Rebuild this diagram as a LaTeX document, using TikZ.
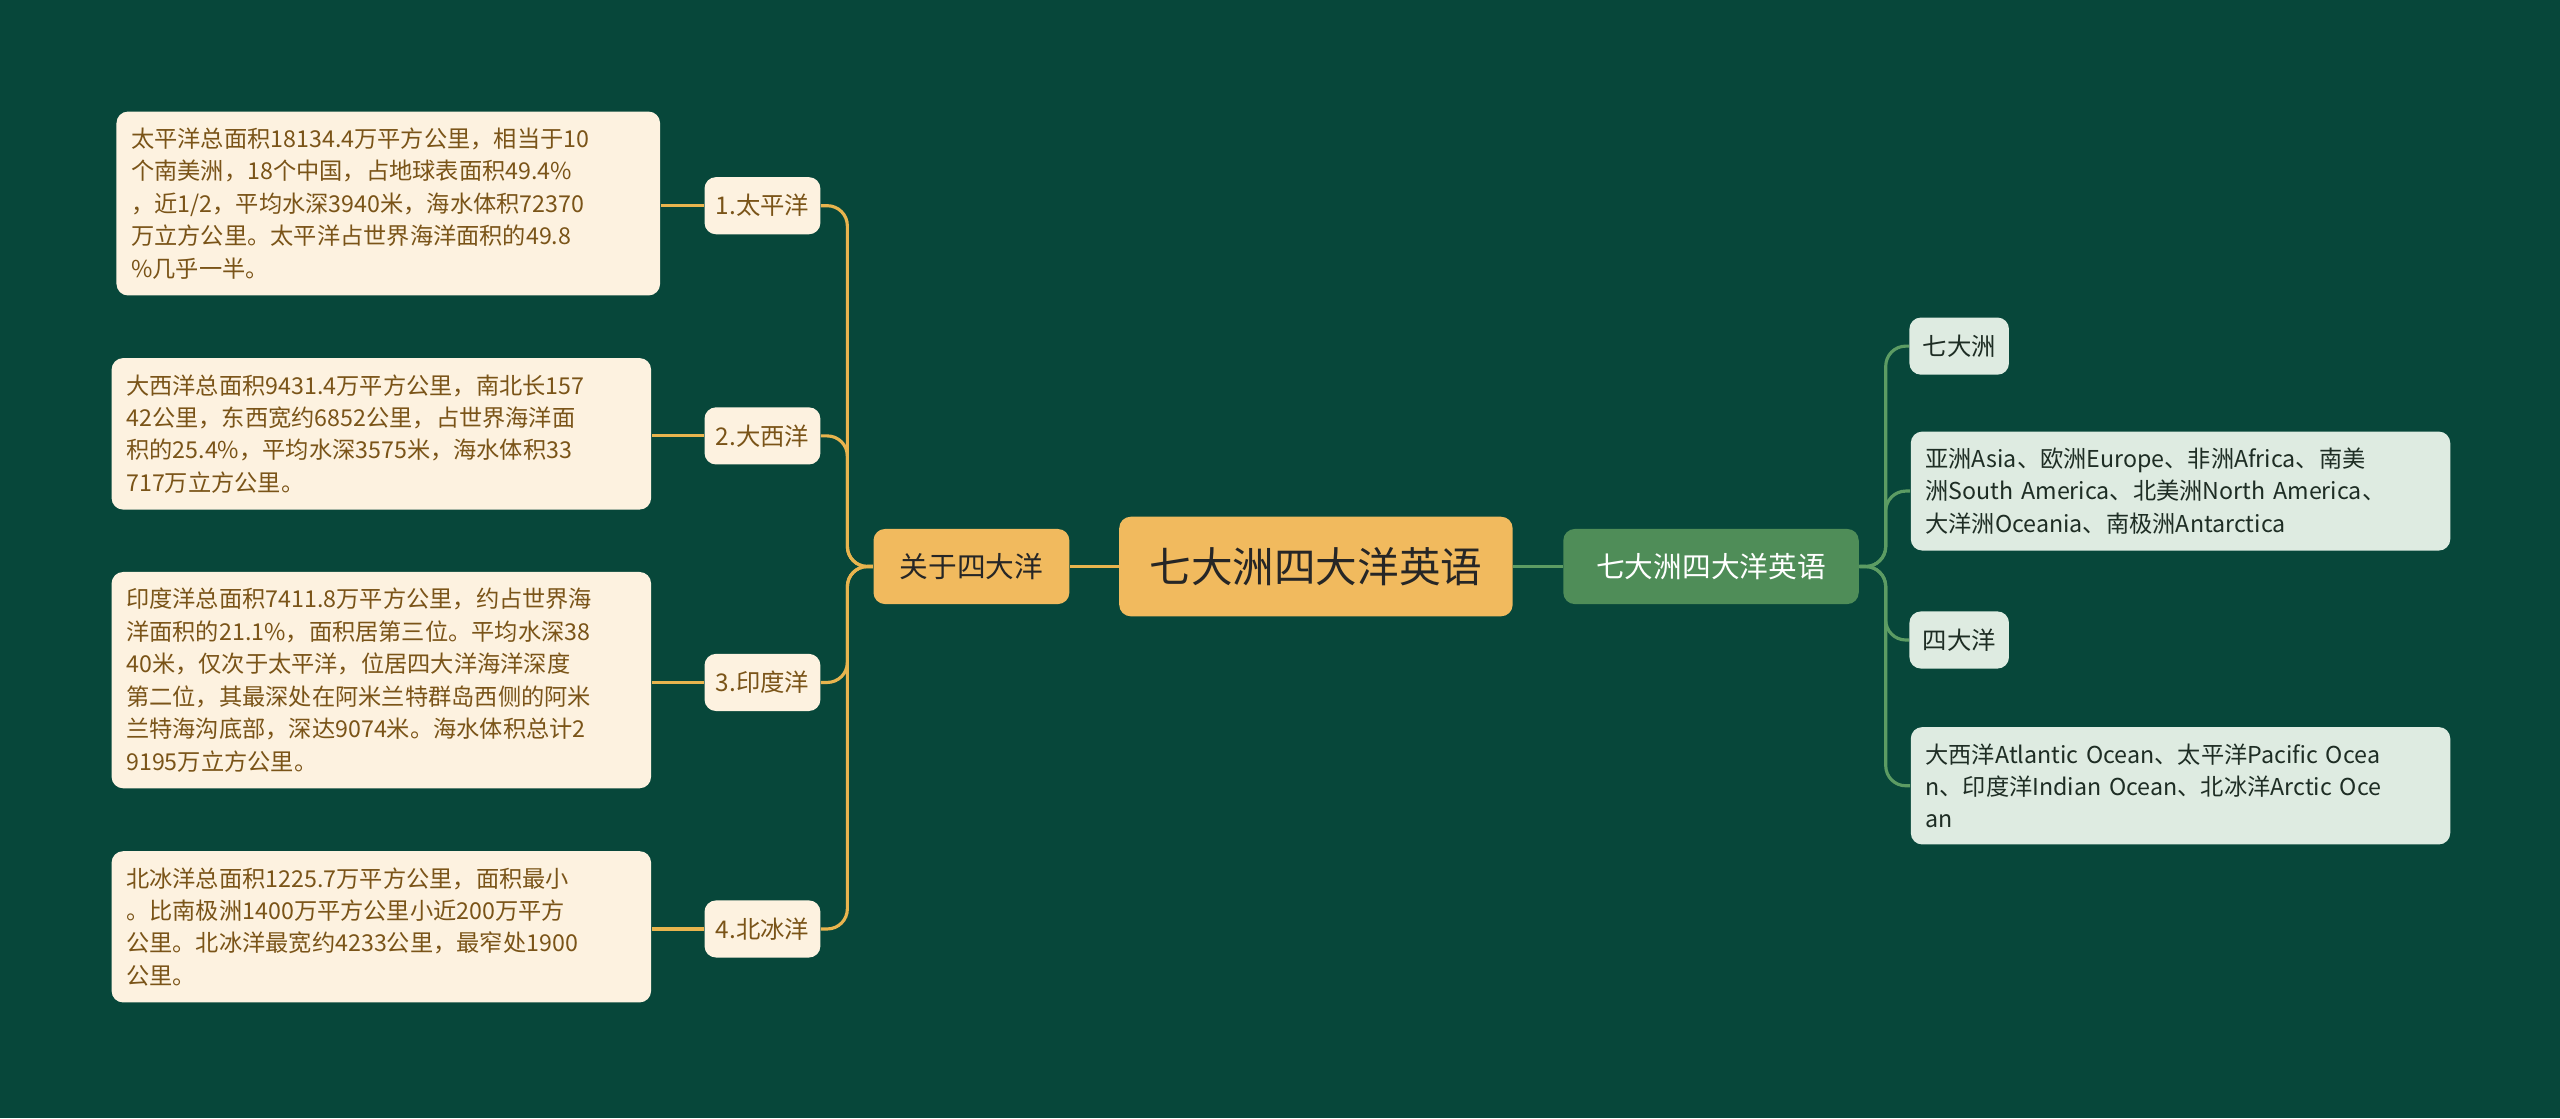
\documentclass[tikz,border=0pt]{standalone}
\usepackage{fontspec}
\setmainfont{Noto Sans CJK SC}
\begin{document}
\begin{tikzpicture}[x=0.02cm,y=-0.02cm,
  orl/.style={draw=lineO,line width=1.1pt,rounded corners=7pt},
  grl/.style={draw=lineG,line width=1.1pt,rounded corners=7pt},
  leafO/.style={fill=leafOf,text=leafOt,rounded corners=4pt,font=\fontsize{8.5pt}{11pt}\selectfont,minimum width=1.42cm,minimum height=0.7cm,inner sep=2pt},
  boxO/.style={fill=leafOf,text=leafOt,rounded corners=4pt,font=\fontsize{8.1pt}{11.3pt}\selectfont,align=left,anchor=north west,text width=6.25cm,inner xsep=0.18cm,inner ysep=0.2cm},
  leafG/.style={fill=leafGf,text=leafGt,rounded corners=4pt,font=\fontsize{8.5pt}{11pt}\selectfont,minimum width=1.22cm,minimum height=0.7cm,inner sep=2pt},
  boxG/.style={fill=leafGf,text=leafGt,rounded corners=4pt,font=\fontsize{8.1pt}{11.3pt}\selectfont,align=left,anchor=north west,text width=6.25cm,inner xsep=0.18cm,inner ysep=0.2cm}]
\definecolor{bg}{HTML}{07473A}
\definecolor{lineO}{HTML}{E8B44E}
\definecolor{lineG}{HTML}{5C9C63}
\definecolor{leafOf}{HTML}{FDF2E0}
\definecolor{leafOt}{HTML}{7A5418}
\definecolor{leafGf}{HTML}{DEEBE1}
\definecolor{leafGt}{HTML}{1E2D24}
\definecolor{orangeN}{HTML}{F1BA5E}
\definecolor{greenN}{HTML}{4F8D58}
\fill[bg] (0,0) rectangle (1568,685);
\useasboundingbox (0,0) rectangle (1568,685);

\node[fill=orangeN,text=black!85,rounded corners=4pt,minimum width=4.82cm,minimum height=1.22cm,font=\fontsize{14.5pt}{16pt}\selectfont] (c) at (806,347) {七大洲四大洋英语};
\node[fill=orangeN,text=black!85,rounded corners=4pt,minimum width=2.4cm,minimum height=0.92cm,font=\fontsize{10pt}{12pt}\selectfont] (L) at (595,347) {关于四大洋};
\node[fill=greenN,text=white,rounded corners=4pt,minimum width=3.62cm,minimum height=0.92cm,font=\fontsize{10pt}{12pt}\selectfont] (R) at (1048,347) {七大洲四大洋英语};

\node[leafO] (p1) at (467,126) {1.太平洋};
\node[leafO] (p2) at (467,267) {2.大西洋};
\node[leafO] (p3) at (467,418) {3.印度洋};
\node[leafO] (p4) at (467,569) {4.北冰洋};

\node[boxO,text width=6.3cm] (b1) at (71,68) {太平洋总面积18134.4万平方公里，相当于10\\个南美洲，18个中国，占地球表面积49.4\%\\，近1/2，平均水深3940米，海水体积72370\\万立方公里。太平洋占世界海洋面积的49.8\\\%几乎一半。};
\node[boxO] (b2) at (68,219) {大西洋总面积9431.4万平方公里，南北长157\\42公里，东西宽约6852公里，占世界海洋面\\积的25.4\%，平均水深3575米，海水体积33\\717万立方公里。};
\node[boxO] (b3) at (68,350) {印度洋总面积7411.8万平方公里，约占世界海\\洋面积的21.1\%，面积居第三位。平均水深38\\40米，仅次于太平洋，位居四大洋海洋深度\\第二位，其最深处在阿米兰特群岛西侧的阿米\\兰特海沟底部，深达9074米。海水体积总计2\\9195万立方公里。};
\node[boxO] (b4) at (68,521) {北冰洋总面积1225.7万平方公里，面积最小\\。比南极洲1400万平方公里小近200万平方\\公里。北冰洋最宽约4233公里，最窄处1900\\公里。};

\node[leafG] (g1) at (1200,212) {七大洲};
\node[leafG] (g3) at (1200,392) {四大洋};
\node[boxG] (g2) at (1170,264) {亚洲Asia、欧洲Europe、非洲Africa、南美\\洲South America、北美洲North America、\\大洋洲Oceania、南极洲Antarctica};
\node[boxG] (g4) at (1170,445) {大西洋Atlantic Ocean、太平洋Pacific Ocea\\n、印度洋Indian Ocean、北冰洋Arctic Oce\\an};

\coordinate (ls) at (519,347);
\coordinate (rs) at (1155,347);
\draw[orl] (c.west) -- (L.east);
\draw[grl] (c.east) -- (R.west);
\foreach \n in {p1,p2,p3,p4} \draw[orl] (L.west) -- (ls) |- (\n.east);
\foreach \n in {g1,g2,g3,g4} \draw[grl] (R.east) -- (rs) |- (\n.west);
\draw[orl] (p1.west) -- (p1.west -| b1.east);
\draw[orl] (p2.west) -- (p2.west -| b2.east);
\draw[orl] (p3.west) -- (p3.west -| b3.east);
\draw[orl] (p4.west) -- (p4.west -| b4.east);
\end{tikzpicture}
\end{document}
